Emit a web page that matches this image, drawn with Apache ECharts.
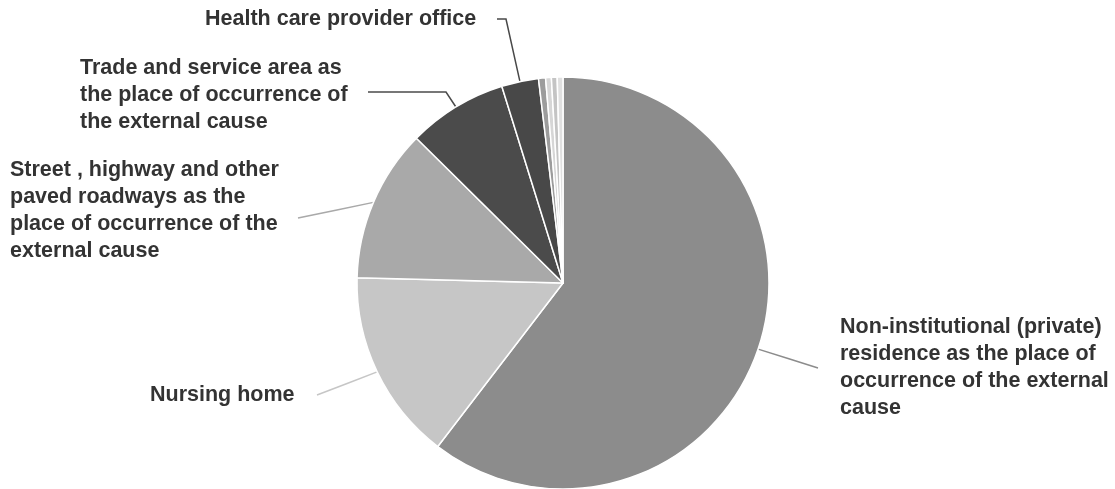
<!DOCTYPE html>
<html><head><meta charset="utf-8">
<script src="https://cdn.jsdelivr.net/npm/echarts@6/dist/echarts.min.js"></script>
<style>html,body{margin:0;padding:0;background:#fff}#main{width:1115px;height:489px}</style>
</head><body><div id="main"></div>
<script>
const categories = [
  'Non-institutional (private) residence as the place of occurrence of the external cause',
  'Nursing home',
  'Street , highway and other paved roadways as the place of occurrence of the external cause',
  'Trade and service area as the place of occurrence of the external cause',
  'Health care provider office',
  'Other place A',
  'Other place B',
  'Other place C',
  'Other place D'
];
const values = [60.4, 15.0, 12.0, 7.8, 2.9, 0.55, 0.45, 0.45, 0.45];
const labelTexts = [
  'Non-institutional (private)\nresidence as the place of\noccurrence of the external\ncause',
  'Nursing home',
  'Street , highway and other\npaved roadways as the\nplace of occurrence of the\nexternal cause',
  'Trade and service area as\nthe place of occurrence of\nthe external cause',
  'Health care provider office',
  '', '', '', ''
];
const colors = ['#8c8c8c', '#c6c6c6', '#a9a9a9', '#4b4b4b', '#484848', '#9c9c9c', '#d6d6d6', '#c4c4c4', '#e0e0e0'];

// label placement (layout only)
const labelPos = [
  { x: 840, y: 368, endX: 818, endY: 368 },
  { x: 150, y: 395, endX: 317, endY: 395 },
  { x: 10,  y: 211, endX: 298, endY: 218 },
  { x: 80,  y: 95,  endX: 368, endY: 92, knee: 78 },
  { x: 205, y: 19,  endX: 497, endY: 19, knee: 9 }
];

const chart = echarts.init(document.getElementById('main'), null, { renderer: 'canvas' });
chart.setOption({
  backgroundColor: '#ffffff',
  animation: false,
  series: [{
    type: 'pie',
    center: [563, 283],
    radius: 206,
    startAngle: 90,
    clockwise: true,
    avoidLabelOverlap: false,
    data: categories.map((n, i) => ({
      name: n,
      value: values[i],
      itemStyle: { color: colors[i] },
      label: { show: !!labelTexts[i] },
      labelLine: { show: !!labelTexts[i] }
    })),
    itemStyle: { borderColor: '#ffffff', borderWidth: 1.5 },
    label: {
      position: 'outside',
      formatter: p => labelTexts[p.dataIndex],
      color: '#333333',
      fontFamily: 'Liberation Sans',
      fontWeight: 'bold',
      fontSize: 21.5,
      lineHeight: 27,
      align: 'left'
    },
    labelLine: { show: true, length: 10, length2: 10, smooth: false, lineStyle: { width: 1.5 } },
    labelLayout: function (p) {
      const c = labelPos[p.dataIndex];
      if (!c || !p.labelLinePoints) return {};
      const a = p.labelLinePoints[0];
      let mid;
      if (c.knee) mid = [c.endX + c.knee, c.endY];
      else mid = [(a[0] + c.endX) / 2, (a[1] + c.endY) / 2];
      return {
        x: c.x, y: c.y, align: 'left', verticalAlign: 'middle',
        labelLinePoints: [a, mid, [c.endX, c.endY]]
      };
    }
  }]
});
</script>
</body></html>
